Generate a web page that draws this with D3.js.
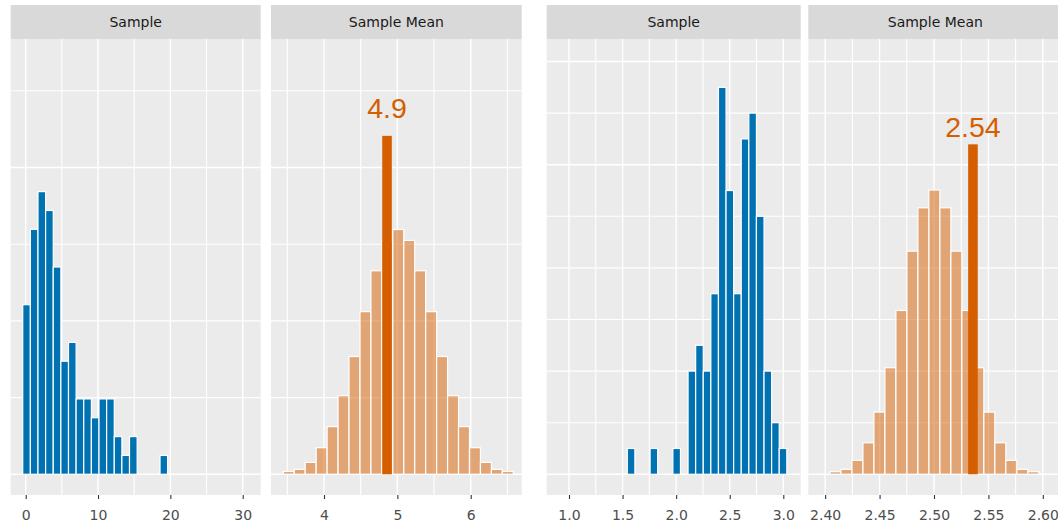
<!DOCTYPE html>
<html>
<head>
<meta charset="utf-8">
<script src="https://cdn.jsdelivr.net/npm/d3@7"></script>
<style>
  body { margin: 0; background: #fff; }
  .strip-text { font-family: "DejaVu Sans", Verdana, sans-serif; font-size: 14px; fill: #1a1a1a; }
  .tick text { font-family: "DejaVu Sans", Verdana, sans-serif; font-size: 14px; fill: #4d4d4d; }
  .mean-label { font-family: "Liberation Sans", Arial, sans-serif; font-size: 28.5px; fill: #D55E00; }
</style>
</head>
<body>
<div id="chart"></div>
<script>
// ---- data ----
// left pair: skewed sample (n = 100) and the distribution of its sample mean
const sampleLeftCounts = [9, 13, 15, 14, 11, 6, 7, 4, 4, 3, 4, 4, 2, 1, 2, 0, 0, 0, 1];
const sampleLeftBins = [-0.41, 1.0545];          // first bin start, bin width
const meanLeftHeights = [0.15, 0.26, 0.63, 1.41, 2.53, 4.17, 6.25, 8.63, 10.8, 12.41, 12.99,
                         12.41, 10.8, 8.63, 6.25, 4.17, 2.53, 1.41, 0.63, 0.26, 0.15];
const meanLeftBins = [3.445, 0.1493];
const meanLeftObserved = [4.859, 17.96, 18.9];    // observed mean, bar height, label height
const meanLeftLabel = '4.9';

// right pair
const sampleRightCounts = [1, 0, 0, 1, 0, 0, 1, 0, 4, 5, 4, 7, 15, 11, 7, 13, 14, 10, 4, 2, 1];
const sampleRightBins = [1.544, 0.0709];
const meanRightHeights = [0.1, 0.19, 0.54, 1.22, 2.41, 4.13, 6.35, 8.65, 10.33, 11.02,
                          10.33, 8.65, 6.35, 4.13, 2.41, 1.22, 0.54, 0.19, 0.1];
const meanRightBins = [2.4044, 0.0101];
const meanRightObserved = [2.5358, 12.79, 13.06];
const meanRightLabel = '2.54';

// axes
const xLimits = [[-2.074, 32.49], [3.2774, 6.695], [0.7919, 3.1624], [2.3845, 2.6179]];
const xMajor = [[0, 10, 20, 30], [4, 5, 6], [1.0, 1.5, 2.0, 2.5, 3.0], [2.40, 2.45, 2.50, 2.55, 2.60]];
const xMinor = [[5, 15, 25], [3.5, 4.5, 5.5, 6.5], [1.25, 1.75, 2.25, 2.75], [2.425, 2.475, 2.525, 2.575]];
const xFormats = ['d', 'd', '.1f', '.2f'];
const yMaxLeft = 22, yMaxRight = 16.07;
const yMajorLeft = [0, 8.14, 16.28], yMinorLeft = [4.07, 12.21, 20.35];
const yMajorRight = [0, 4, 8, 12, 16], yMinorRight = [2, 6, 10, 14];
const stripLabels = ['Sample', 'Sample Mean', 'Sample', 'Sample Mean'];

// ---- layout ----
const W = 1058, H = 525;
const stripTop = 5, plotTop = 39, plotBottom = 495;
const panelBoxes = [[10.7, 250], [271, 250.7], [546.7, 254], [808.3, 254]];
const blue = '#0072B2', orange = '#D55E00';

const svg = d3.select('#chart').append('svg')
    .attr('width', W)
    .attr('height', H);

function yScaleFor(yMax) {
    // ggplot style 5% expansion on both ends
    return d3.scaleLinear()
        .domain([-0.05 * yMax, 1.05 * yMax])
        .range([plotBottom, plotTop]);
}
const yLeft = yScaleFor(yMaxLeft), yRight = yScaleFor(yMaxRight);

const panels = [
    { counts: sampleLeftCounts, bins: sampleLeftBins, y: yLeft, yMajor: yMajorLeft, yMinor: yMinorLeft, fill: blue, alpha: 1 },
    { counts: meanLeftHeights, bins: meanLeftBins, y: yLeft, yMajor: yMajorLeft, yMinor: yMinorLeft, fill: orange, alpha: 0.5,
      obs: meanLeftObserved, label: meanLeftLabel },
    { counts: sampleRightCounts, bins: sampleRightBins, y: yRight, yMajor: yMajorRight, yMinor: yMinorRight, fill: blue, alpha: 1 },
    { counts: meanRightHeights, bins: meanRightBins, y: yRight, yMajor: yMajorRight, yMinor: yMinorRight, fill: orange, alpha: 0.5,
      obs: meanRightObserved, label: meanRightLabel }
];

panels.forEach((p, k) => {
    const [left, width] = panelBoxes[k];
    const x = d3.scaleLinear().domain(xLimits[k]).range([0, width]);
    const y = p.y;
    const g = svg.append('g').attr('transform', `translate(${left}, 0)`);

    // strip
    g.append('rect')
        .attr('x', 0).attr('y', stripTop)
        .attr('width', width).attr('height', plotTop - stripTop)
        .attr('fill', '#d9d9d9');
    g.append('text')
        .attr('class', 'strip-text')
        .attr('x', width / 2)
        .attr('y', (stripTop + plotTop) / 2)
        .attr('dy', '0.36em')
        .attr('text-anchor', 'middle')
        .text(stripLabels[k]);

    // panel background + grid
    g.append('rect')
        .attr('x', 0).attr('y', plotTop)
        .attr('width', width).attr('height', plotBottom - plotTop)
        .attr('fill', '#ebebeb');

    const grid = g.append('g').attr('stroke', '#fff');
    grid.selectAll('.vminor').data(xMinor[k]).enter().append('line')
        .attr('x1', d => x(d)).attr('x2', d => x(d))
        .attr('y1', plotTop).attr('y2', plotBottom)
        .attr('stroke-width', 1.1);
    grid.selectAll('.hminor').data(p.yMinor).enter().append('line')
        .attr('x1', 0).attr('x2', width)
        .attr('y1', d => y(d)).attr('y2', d => y(d))
        .attr('stroke-width', 1.1);
    grid.selectAll('.vmajor').data(xMajor[k]).enter().append('line')
        .attr('x1', d => x(d)).attr('x2', d => x(d))
        .attr('y1', plotTop).attr('y2', plotBottom)
        .attr('stroke-width', 1.4);
    grid.selectAll('.hmajor').data(p.yMajor).enter().append('line')
        .attr('x1', 0).attr('x2', width)
        .attr('y1', d => y(d)).attr('y2', d => y(d))
        .attr('stroke-width', 1.4);

    // histogram bars
    const [b0, bw] = p.bins;
    const bars = p.counts.map((c, i) => ({ x0: b0 + i * bw, x1: b0 + (i + 1) * bw, c }))
        .filter(d => d.c > 0);
    g.append('g').selectAll('rect')
        .data(bars)
        .enter()
        .append('rect')
        .attr('x', d => x(d.x0))
        .attr('width', d => x(d.x1) - x(d.x0))
        .attr('y', d => y(d.c))
        .attr('height', d => y(0) - y(d.c))
        .attr('fill', p.fill)
        .attr('fill-opacity', p.alpha)
        .attr('stroke', '#fff')
        .attr('stroke-width', 1.2);

    // observed mean highlighted
    if (p.obs) {
        const [m, h, ly] = p.obs;
        g.append('rect')
            .attr('x', x(m - bw / 2) + 0.7)
            .attr('width', x(m + bw / 2) - x(m - bw / 2) - 1.4)
            .attr('y', y(h))
            .attr('height', y(0) - y(h))
            .attr('fill', orange);
        g.append('text')
            .attr('class', 'mean-label')
            .attr('x', x(m))
            .attr('y', y(ly))
            .attr('text-anchor', 'middle')
            .text(p.label);
    }

    // x axis
    const axis = g.append('g')
        .attr('transform', `translate(0, ${plotBottom})`)
        .call(d3.axisBottom(x)
            .tickValues(xMajor[k])
            .tickFormat(d3.format(xFormats[k]))
            .tickSize(4)
            .tickPadding(11));
    axis.select('.domain').remove();
    axis.selectAll('.tick line').attr('stroke', '#333').attr('stroke-width', 1.1);
    axis.selectAll('.tick text').attr('font-size', null).attr('font-family', null);
});
</script>
</body>
</html>
